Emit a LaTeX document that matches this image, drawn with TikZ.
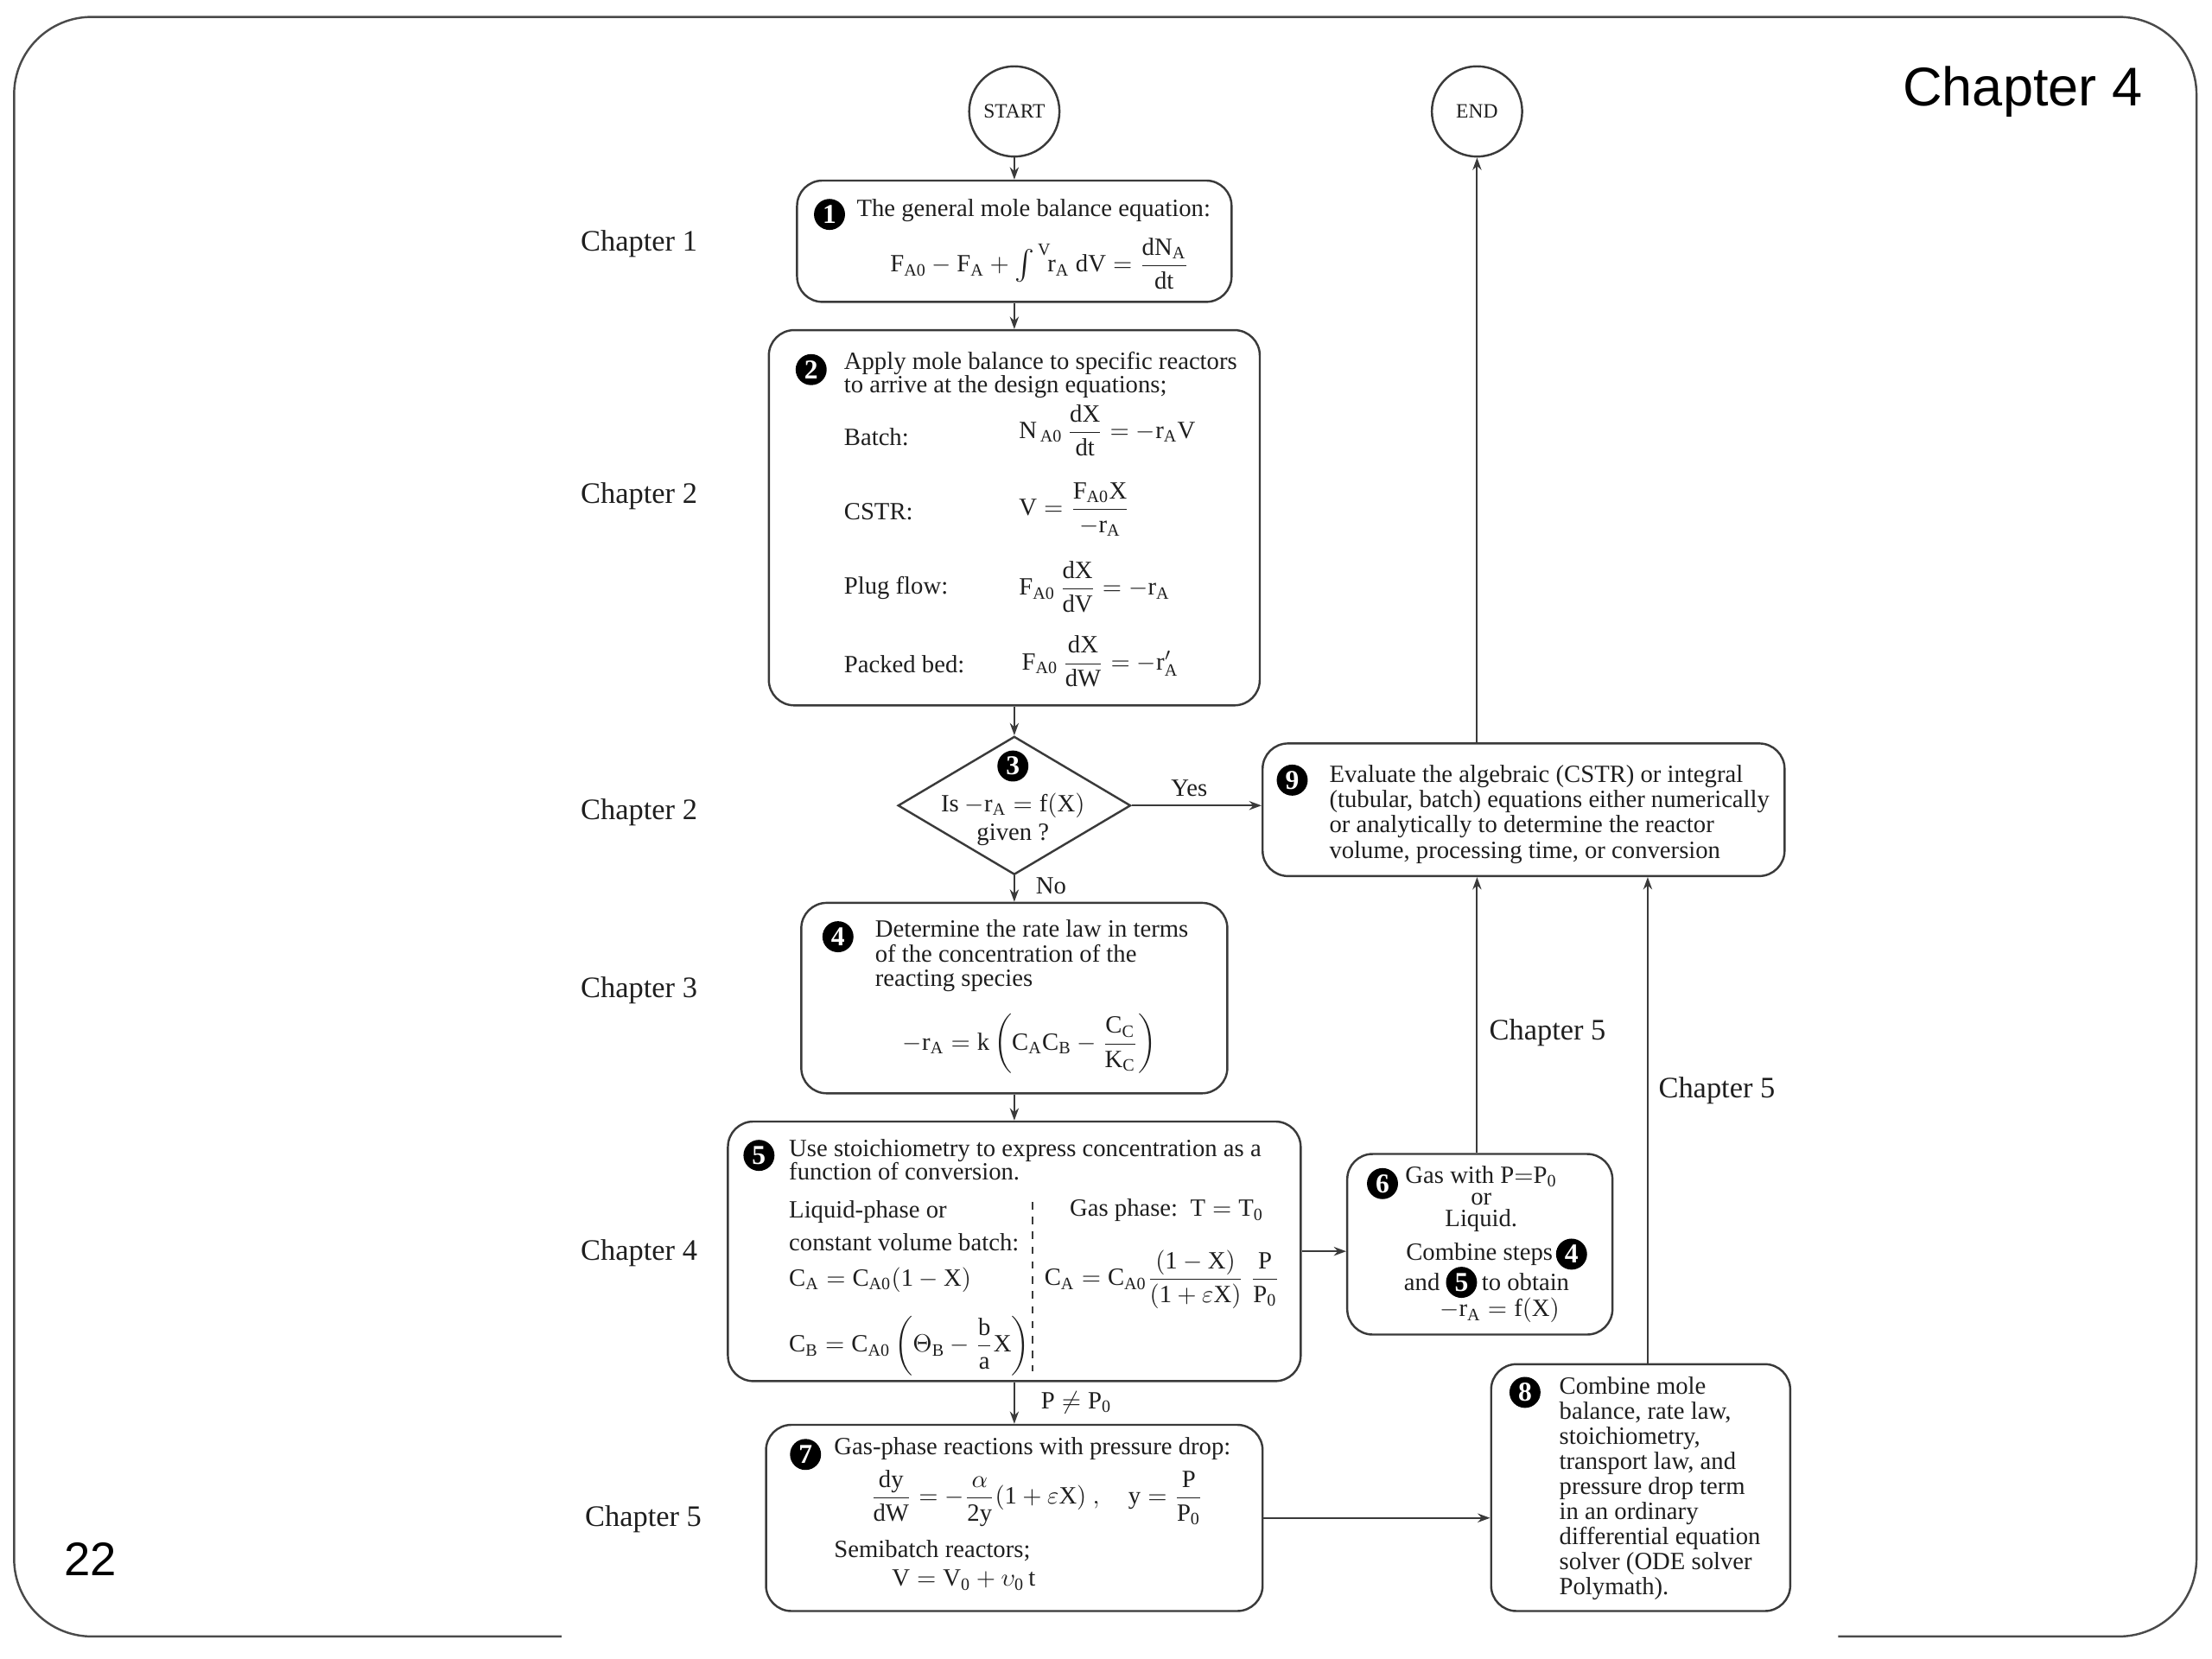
\documentclass[tikz,border=0pt]{standalone}
\usepackage{amsmath}
\usepackage{fontspec}
\setmainfont{Liberation Serif}
\newfontfamily\helv{Liberation Sans}
\usetikzlibrary{shapes.geometric,fit,arrows.meta}
\definecolor{linec}{HTML}{3A3A3A}
\definecolor{textc}{HTML}{1E1E1E}
\definecolor{framec}{HTML}{4A4A4A}
\begin{document}
\begin{tikzpicture}[x=0.02cm,y=-0.02cm,
  box/.style={draw=linec,line width=0.85pt,rounded corners=0.36cm,inner sep=0pt},
  badge/.style={circle,fill=black,text=white,inner sep=0pt,minimum size=0.44cm,font=\fontsize{11}{11}\selectfont\bfseries},
  txt/.style={inner sep=0pt,text=textc,font=\fontsize{10}{10.2}\selectfont},
  chap/.style={inner sep=0pt,text=textc,font=\fontsize{12}{12}\selectfont},
  term/.style={circle,draw=linec,line width=0.85pt,minimum size=1.28cm,inner sep=0pt,font=\fontsize{8.2}{8.2}\selectfont,text=textc},
  arr/.style={draw=linec,line width=0.7pt,-{Stealth[length=5pt,width=3.6pt]}},
]
\useasboundingbox (0,0) rectangle (1568,1176);
% slide frame
\draw[framec,line width=0.85pt,rounded corners=1.1cm] (398,1160) -- (10,1160) -- (10,12) -- (1557,12) -- (1557,1160) -- (1303,1160);
\node[inner sep=0pt,anchor=base east,font=\helv\fontsize{22}{22}\selectfont] (hdr) at (1519,75) {Chapter 4};
\node[inner sep=0pt,anchor=base west,font=\helv\fontsize{19}{19}\selectfont] (pg) at (45,1117) {22};

% terminals
\node[term] (start) at (719,79) {START};
\node[term] (end) at (1047,79) {END};

% boxes
\node[box,fit={(565,128) (873,214)}] (b1) {};
\node[box,fit={(545,234) (893,500)}] (b2) {};
\node[draw=linec,line width=0.85pt,diamond,inner sep=0pt,minimum width=3.3cm,minimum height=1.96cm] (dia) at (719,571) {};
\node[box,fit={(895,527) (1265,621)}] (b9) {};
\node[box,fit={(568,640) (870,775)}] (b4) {};
\node[box,fit={(516,795) (922,979)}] (b5) {};
\node[box,fit={(955,818) (1143,946)}] (b6) {};
\node[box,fit={(543,1010) (895,1142)}] (b7) {};
\node[box,fit={(1057,967) (1269,1142)}] (b8) {};

% badges
\node[badge] (n1) at (588,152) {1};
\node[badge] (n2) at (575,262) {2};
\node[badge] (n3) at (718,543) {3};
\node[badge] (n4) at (594,664) {4};
\node[badge] (n5) at (538,819) {5};
\node[badge] (n6) at (980,839) {6};
\node[badge] (n7) at (571,1031) {7};
\node[badge] (n8) at (1081,987) {8};
\node[badge] (n9) at (916,553) {9};
\node[badge] (n6a) at (1114,889) {4};
\node[badge] (n6b) at (1036,909) {5};

% box 1
\node[txt,anchor=west] (t1) at (607,149) {The general mole balance equation:};
\node[txt] (e1) at (737,187) {$\mathrm{F_{A0} - F_A + \vcenter{\hbox{\fontsize{13}{13}\selectfont$\int$}}^{\,V}\! r_A\ dV = \dfrac{dN_A}{dt}}$};

% box 2
\node[txt,anchor=north west,align=left,font=\fontsize{10}{9.6}\selectfont] (t2) at (598,249) {Apply mole balance to specific reactors\\to arrive at the design equations;};
\node[txt,anchor=west] (l2a) at (598,310) {Batch:};
\node[txt,anchor=west] (l2b) at (598,363) {CSTR:};
\node[txt,anchor=west] (l2c) at (598,417) {Plug flow:};
\node[txt,anchor=west] (l2d) at (598,471) {Packed bed:};
\node[txt,anchor=west] (e2a) at (722,305) {$\mathrm{N_{\,A0}\,\dfrac{dX}{dt} = -r_A V}$};
\node[txt,anchor=west] (e2b) at (722,361) {$\mathrm{V = \dfrac{F_{A0}X}{-r_A}}$};
\node[txt,anchor=west] (e2c) at (722,416) {$\mathrm{F_{A0}\,\dfrac{dX}{dV} = -r_A}$};
\node[txt,anchor=west] (e2d) at (724,469) {$\mathrm{F_{A0}\,\dfrac{dX}{dW} = -r'_A}$};

% diamond
\node[txt] (d1) at (718,571) {Is $\mathrm{-r_A = f(X)}$};
\node[txt] (d2) at (718,592) {given ?};

% box 9
\node[txt,anchor=north west,align=left,font=\fontsize{10}{10.2}\selectfont] (t9) at (942,542) {Evaluate the algebraic (CSTR) or integral\\(tubular, batch) equations either numerically\\or analytically to determine the reactor\\volume, processing time, or conversion};

% box 4
\node[txt,anchor=north west,align=left,font=\fontsize{10}{9.9}\selectfont] (t4) at (620,652) {Determine the rate law in terms\\of the concentration of the\\reacting species};
\node[txt] (e4) at (730,740) {$\mathrm{-r_A = k\left(C_A C_B - \dfrac{C_C}{K_C}\right)}$};

% box 5
\node[txt,anchor=north west,align=left,font=\fontsize{10}{9.6}\selectfont] (t5) at (559,807) {Use stoichiometry to express concentration as a\\function of conversion.};
\node[txt,anchor=north west,align=left,font=\fontsize{10}{13}\selectfont] (t5a) at (559,851) {Liquid-phase or\\constant volume batch:};
\node[txt,anchor=west] (e5a) at (559,907) {$\mathrm{C_A = C_{A0}(1-X)}$};
\node[txt,anchor=west] (e5b) at (559,954) {$\mathrm{C_B = C_{A0}}\left(\Theta_{\mathrm{B}} - \mathrm{\dfrac{b}{a}X}\right)$};
\node[txt,anchor=west] (t5b) at (758,858) {Gas phase:\ \ $\mathrm{T = T_0}$};
\node[txt,anchor=west] (e5c) at (740,907) {$\mathrm{C_A = C_{A0}\dfrac{(1-X)}{(1+\varepsilon X)}\ \dfrac{P}{P_0}}$};
\draw[linec,line width=0.7pt,dashed] (732,852) -- (732,972);

% box 6
\node[txt,anchor=north,align=center,font=\fontsize{10}{8.8}\selectfont] (t6a) at (1050,826) {Gas with $\mathrm{P{=}P_0}$\\or\\Liquid.};
\node[txt,anchor=east] (t6d) at (1101,889) {Combine steps};
\node[txt,anchor=east] (t6e) at (1021,909) {and};
\node[txt,anchor=west] (t6f) at (1050,909) {to obtain};
\node[txt] (t6g) at (1063,929) {$\mathrm{-r_A = f(X)}$};

% box 7
\node[txt,anchor=west] (t7a) at (591,1027) {Gas-phase reactions with pressure drop:};
\node[txt] (e7) at (735,1062) {$\mathrm{\dfrac{dy}{dW} = -\dfrac{\alpha}{2y}(1+\varepsilon X)\ ,\quad y = \dfrac{P}{P_0}}$};
\node[txt,anchor=west] (t7b) at (591,1099) {Semibatch reactors;};
\node[txt,anchor=west] (e7b) at (632,1120) {$\mathrm{V = V_0 + \upsilon_0\, t}$};

% box 8
\node[txt,anchor=north west,align=left,font=\fontsize{10}{10.1}\selectfont] (t8) at (1105,976) {Combine mole\\balance, rate law,\\stoichiometry,\\transport law, and\\pressure drop term\\in an ordinary\\differential equation\\solver (ODE solver\\Polymath).};

% chapter labels
\node[chap] (c1) at (453,173) {Chapter 1};
\node[chap] (c2) at (453,352) {Chapter 2};
\node[chap] (c3) at (453,576) {Chapter 2};
\node[chap] (c4) at (453,702) {Chapter 3};
\node[chap] (c5) at (453,888) {Chapter 4};
\node[chap] (c6) at (456,1077) {Chapter 5};
\node[chap] (c7) at (1097,732) {Chapter 5};
\node[chap] (c8) at (1217,773) {Chapter 5};

% connectors
\draw[arr] (start) -- (b1);
\draw[arr] (b1) -- (b2);
\draw[arr] (b2) -- (dia);
\draw[arr] (dia) -- (b4);
\draw[arr] (b4) -- (b5);
\draw[arr] (b5) -- (b7);
\draw[arr] (dia.east) -- (dia.east -| b9.west);
\draw[arr] (b5.east) -- (b5.east -| b6.west);
\draw[arr] (b7.east) -- (b7.east -| b8.west);
\draw[arr] (end |- b9.north) -- (end);
\draw[arr] (end |- b6.north) -- (end |- b9.south);
\coordinate (c8a) at (1168,967);
\draw[arr] (c8a) -- (c8a |- b9.south);

% connector labels
\node[txt] (yes) at (843,559) {Yes};
\node[txt] (no) at (745,628) {No};
\node[txt] (pne) at (763,994) {$\mathrm{P \neq P_0}$};
\end{tikzpicture}
\end{document}
